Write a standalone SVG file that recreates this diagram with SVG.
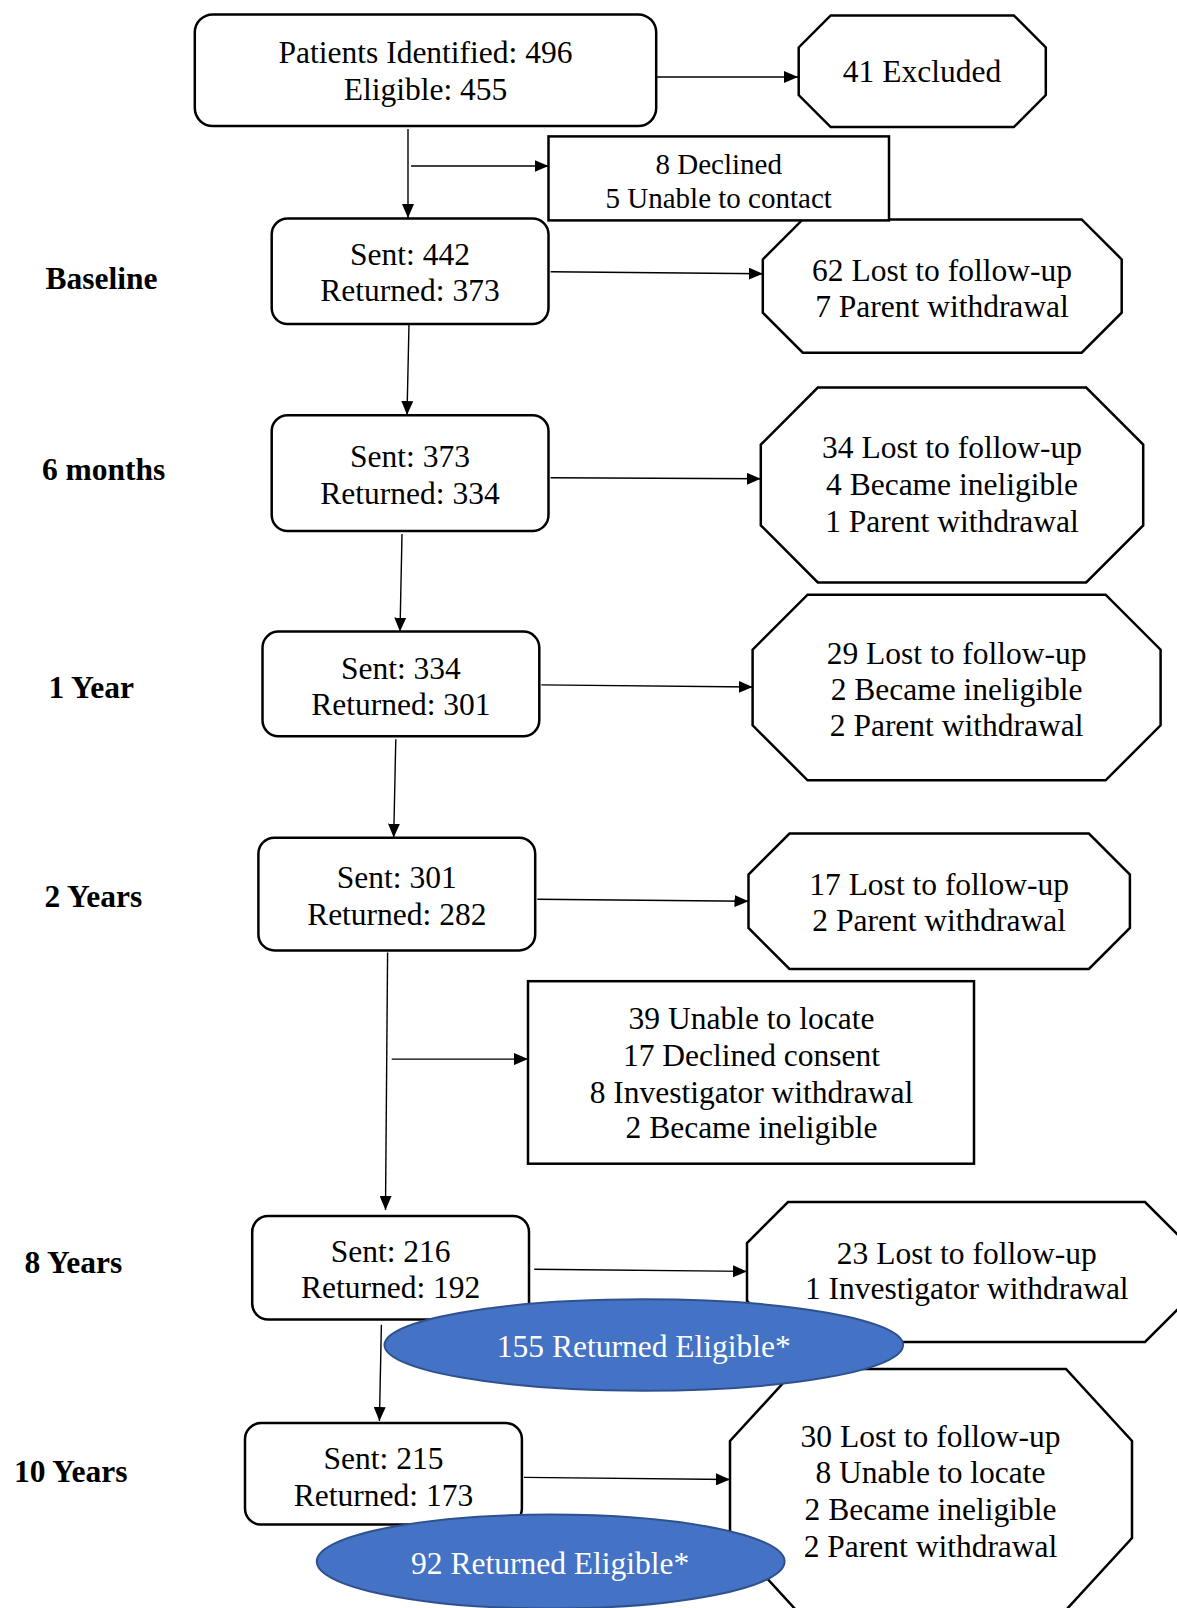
<svg xmlns="http://www.w3.org/2000/svg" width="1177" height="1608" viewBox="0 0 1177 1608">
<defs>
<style>
text{font-family:"Liberation Serif","Times New Roman",serif;font-size:31.5px;fill:#000;text-anchor:middle}
.lbl{font-weight:bold}
.sm{font-size:29px}
.wt{fill:#fff}
.box{fill:#fff;stroke:#000;stroke-width:2.5}
.ell{fill:#4472C4;stroke:#2F528F;stroke-width:2}
.arr{stroke:#000;stroke-width:1.4;fill:none;marker-end:url(#ah)}
</style>
<marker id="ah" markerWidth="14" markerHeight="12" refX="14" refY="6" orient="auto" markerUnits="userSpaceOnUse"><path d="M0,0 L14,6 L0,12 z" fill="#000"/></marker>
</defs>
<rect width="1177" height="1608" fill="#fff"/>

<g id="labels">
<text class="lbl" x="101.5" y="288.6">Baseline</text>
<text class="lbl" x="103.6" y="480.2">6 months</text>
<text class="lbl" x="91.3" y="697.6">1 Year</text>
<text class="lbl" x="93.3" y="906.6">2 Years</text>
<text class="lbl" x="73.3" y="1272.7">8 Years</text>
<text class="lbl" x="70.7" y="1481.9">10 Years</text>
</g>

<g id="connectors">
<line class="arr" x1="657" y1="77" x2="798" y2="77"/>
<line class="arr" x1="408" y1="129" x2="408" y2="218"/>
<line class="arr" x1="411" y1="166" x2="548.5" y2="166"/>
<line class="arr" x1="550.6" y1="271.7" x2="762.8" y2="273.7"/>
<line class="arr" x1="409" y1="324" x2="407" y2="415"/>
<line class="arr" x1="550.6" y1="477.8" x2="760.8" y2="478.8"/>
<line class="arr" x1="402" y1="534" x2="400" y2="631.6"/>
<line class="arr" x1="541.3" y1="684.9" x2="752.6" y2="687"/>
<line class="arr" x1="395.8" y1="739.2" x2="393.7" y2="837.6"/>
<line class="arr" x1="537.3" y1="899.2" x2="748.5" y2="901.2"/>
<line class="arr" x1="387.6" y1="952.5" x2="385.5" y2="1210"/>
<line class="arr" x1="391.7" y1="1059.1" x2="528" y2="1059.1"/>
<line class="arr" x1="534.2" y1="1269.3" x2="747" y2="1271.4"/>
<line class="arr" x1="381.4" y1="1324.7" x2="379.4" y2="1421"/>
<line class="arr" x1="523.9" y1="1477.4" x2="730" y2="1479.5"/>
</g>

<g id="n_identified">
<rect class="box" x="194.8" y="14.4" width="461.4" height="111.7" rx="18"/>
<text x="425.5" y="62.9">Patients Identified: 496</text>
<text x="425.5" y="99.8">Eligible: 455</text>
</g>

<g id="n_excluded">
<polygon class="box" points="830.7,15.4 1013.8,15.4 1045.8,47.4 1045.8,95.1 1013.8,127.1 830.7,127.1 798.7,95.1 798.7,47.4"/>
<text x="922" y="82.4">41 Excluded</text>
</g>

<g id="n_lost_baseline">
<polygon class="box" points="802.8,219.4 1081.7,219.4 1121.7,259.4 1121.7,312.7 1081.7,352.7 802.8,352.7 762.8,312.7 762.8,259.4"/>
<text x="942" y="281.3">62 Lost to follow-up</text>
<text x="942" y="317.2">7 Parent withdrawal</text>
</g>

<g id="n_declined">
<rect class="box" x="548.5" y="136.4" width="340.5" height="84"/>
<text class="sm" x="718.7" y="173.8">8 Declined</text>
<text class="sm" x="718.7" y="207.8">5 Unable to contact</text>
</g>

<g id="n_baseline">
<rect class="box" x="271.7" y="218.4" width="276.8" height="105.6" rx="16"/>
<text x="410" y="264.9">Sent: 442</text>
<text x="410" y="300.6">Returned: 373</text>
</g>

<g id="n_6m">
<rect class="box" x="271.7" y="415.2" width="276.8" height="115.9" rx="16"/>
<text x="410" y="466.9">Sent: 373</text>
<text x="410" y="503.8">Returned: 334</text>
</g>

<g id="n_lost_6m">
<polygon class="box" points="817.8,387.6 1086.2,387.6 1143.2,444.6 1143.2,525.4 1086.2,582.4 817.8,582.4 760.8,525.4 760.8,444.6"/>
<text x="952" y="457.6">34 Lost to follow-up</text>
<text x="952" y="494.6">4 Became ineligible</text>
<text x="952" y="531.5">1 Parent withdrawal</text>
</g>

<g id="n_1y">
<rect class="box" x="262.5" y="631.6" width="276.8" height="104.6" rx="16"/>
<text x="400.9" y="679.1">Sent: 334</text>
<text x="400.9" y="715">Returned: 301</text>
</g>

<g id="n_lost_1y">
<polygon class="box" points="807.6,594.7 1105.6,594.7 1160.6,649.7 1160.6,725.3 1105.6,780.3 807.6,780.3 752.6,725.3 752.6,649.7"/>
<text x="956.6" y="663.6">29 Lost to follow-up</text>
<text x="956.6" y="699.6">2 Became ineligible</text>
<text x="956.6" y="735.5">2 Parent withdrawal</text>
</g>

<g id="n_2y">
<rect class="box" x="258.4" y="837.7" width="276.8" height="112.7" rx="16"/>
<text x="396.8" y="888.3">Sent: 301</text>
<text x="396.8" y="925.2">Returned: 282</text>
</g>

<g id="n_lost_2y">
<polygon class="box" points="789.5,833.6 1088.9,833.6 1129.9,874.6 1129.9,927.9 1088.9,968.9 789.5,968.9 748.5,927.9 748.5,874.6"/>
<text x="939.2" y="895.4">17 Lost to follow-up</text>
<text x="939.2" y="931.3">2 Parent withdrawal</text>
</g>

<g id="n_unable">
<rect class="box" x="528" y="981.2" width="446" height="182.5"/>
<text x="751.5" y="1028.7">39 Unable to locate</text>
<text x="751.5" y="1065.6">17 Declined consent</text>
<text x="751.5" y="1102.6">8 Investigator withdrawal</text>
<text x="751.5" y="1138.4">2 Became ineligible</text>
</g>

<g id="n_8y">
<rect class="box" x="252.2" y="1216" width="276.8" height="103.6" rx="16"/>
<text x="390.6" y="1261.5">Sent: 216</text>
<text x="390.6" y="1298.4">Returned: 192</text>
</g>

<g id="n_lost_8y">
<polygon class="box" points="788,1202 1145,1202 1186,1243 1186,1301 1145,1342 788,1342 747,1301 747,1243"/>
<text x="966.8" y="1263.6">23 Lost to follow-up</text>
<text x="966.8" y="1299.4">1 Investigator withdrawal</text>
</g>

<g id="n_10y">
<rect class="box" x="245" y="1423.1" width="276.9" height="101.5" rx="16"/>
<text x="383.5" y="1468.6">Sent: 215</text>
<text x="383.5" y="1505.5">Returned: 173</text>
</g>

<g id="n_lost_10y">
<polygon class="box" points="796,1369 1066,1369 1132,1441 1132,1538 1066,1610 796,1610 730,1538 730,1441"/>
<text x="930.5" y="1447">30 Lost to follow-up</text>
<text x="930.5" y="1482.9">8 Unable to locate</text>
<text x="930.5" y="1519.8">2 Became ineligible</text>
<text x="930.5" y="1556.7">2 Parent withdrawal</text>
</g>

<g id="n_elig_8y">
<ellipse class="ell" cx="643.8" cy="1345" rx="259.3" ry="45.7"/>
<text class="wt" x="643.8" y="1356.6">155 Returned Eligible*</text>
</g>

<g id="n_elig_10y">
<ellipse class="ell" cx="550.7" cy="1561.5" rx="233.9" ry="47"/>
<text class="wt" x="550.2" y="1574.2">92 Returned Eligible*</text>
</g>
</svg>
